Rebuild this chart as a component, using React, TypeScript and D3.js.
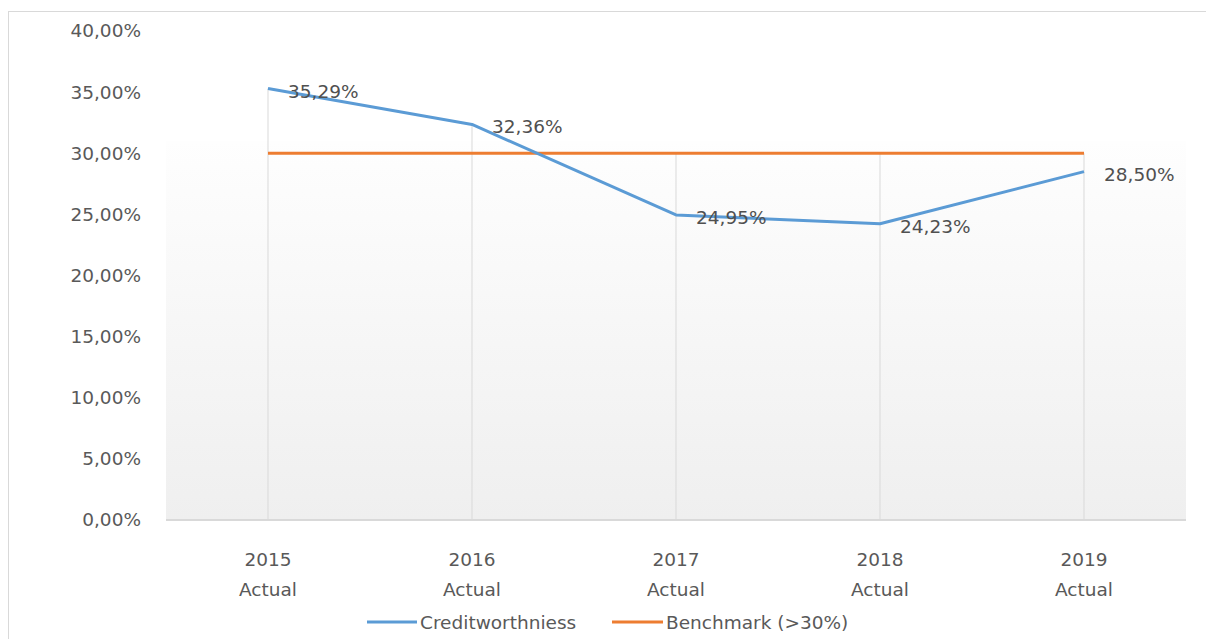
import React from "react";
import * as d3 from "d3";

const categories = ["2015", "2016", "2017", "2018", "2019"];
const subLabel = "Actual";
const creditworthiness = [35.29, 32.36, 24.95, 24.23, 28.5];
const benchmark = [30, 30, 30, 30, 30];
const yTicks = [0, 5, 10, 15, 20, 25, 30, 35, 40];
const seriesNames = ["Creditworthniess", "Benchmark (>30%)"];

const W = 1206;
const H = 639;
const FONT = "'DejaVu Sans', sans-serif";
const FS = 18.5;
const fmt = (v: number) => v.toFixed(2).replace(".", ",") + "%";

export default function App() {
  const x = d3.scaleBand<string>().domain(categories).range([166, 1186]);
  const y = d3.scaleLinear().domain([0, 40]).range([520, 31]);
  const cx = (c: string) => (x(c) as number) + x.bandwidth() / 2;

  const line = d3
    .line<number>()
    .x((_, i) => cx(categories[i]))
    .y((d) => y(d));

  return (
    <svg
      width={W}
      height={H}
      style={{ position: "absolute", left: 0, top: 0 }}
      fontFamily={FONT}
    >
      <defs>
        <linearGradient id="bg" x1="0" y1="0" x2="0" y2="1">
          <stop offset="0" stopColor="#fefefe" />
          <stop offset="1" stopColor="#efefef" />
        </linearGradient>
      </defs>
      <rect x={0} y={0} width={W} height={H} fill="#fff" />
      <rect x={8.5} y={11.5} width={W} height={H} fill="#fff" stroke="#d9d9d9" />
      <rect x={x.range()[0]} y={y(31)} width={x.range()[1] - x.range()[0]} height={y(0) - y(31)} fill="url(#bg)" />

      {/* drop lines */}
      {categories.map((c, i) => (
        <line
          key={c}
          x1={cx(c)}
          x2={cx(c)}
          y1={y(Math.max(creditworthiness[i], benchmark[i]))}
          y2={y(0)}
          stroke="#d9d9d9"
          strokeWidth={1}
        />
      ))}

      {/* x axis line */}
      <line x1={x.range()[0]} x2={x.range()[1]} y1={y(0)} y2={y(0)} stroke="#d9d9d9" strokeWidth={2} />

      {/* y tick labels */}
      {yTicks.map((t) => (
        <text key={t} x={141} y={y(t)} dy="0.35em" textAnchor="end" fontSize={FS} fill="#595959">
          {fmt(t)}
        </text>
      ))}

      {/* x labels */}
      {categories.map((c) => (
        <g key={c}>
          <text x={cx(c)} y={566} textAnchor="middle" fontSize={FS} fill="#595959">
            {c}
          </text>
          <text x={cx(c)} y={596} textAnchor="middle" fontSize={FS} fill="#595959">
            {subLabel}
          </text>
        </g>
      ))}

      <path d={line(benchmark) ?? ""} fill="none" stroke="#ed7d31" strokeWidth={3} />
      <path d={line(creditworthiness) ?? ""} fill="none" stroke="#5b9bd5" strokeWidth={3} strokeLinejoin="round" />

      {/* data labels */}
      {creditworthiness.map((v, i) => (
        <text
          key={i}
          x={cx(categories[i]) + 20}
          y={y(v) + 9}
          fontSize={FS}
          fill="#505050"
        >
          {fmt(v)}
        </text>
      ))}

      {/* legend */}
      <line x1={367} x2={417} y1={622} y2={622} stroke="#5b9bd5" strokeWidth={3} />
      <text x={420} y={629} fontSize={FS} fill="#595959">
        {seriesNames[0]}
      </text>
      <line x1={612} x2={663} y1={622} y2={622} stroke="#ed7d31" strokeWidth={3} />
      <text x={666} y={629} fontSize={FS} fill="#595959">
        {seriesNames[1]}
      </text>
    </svg>
  );
}
